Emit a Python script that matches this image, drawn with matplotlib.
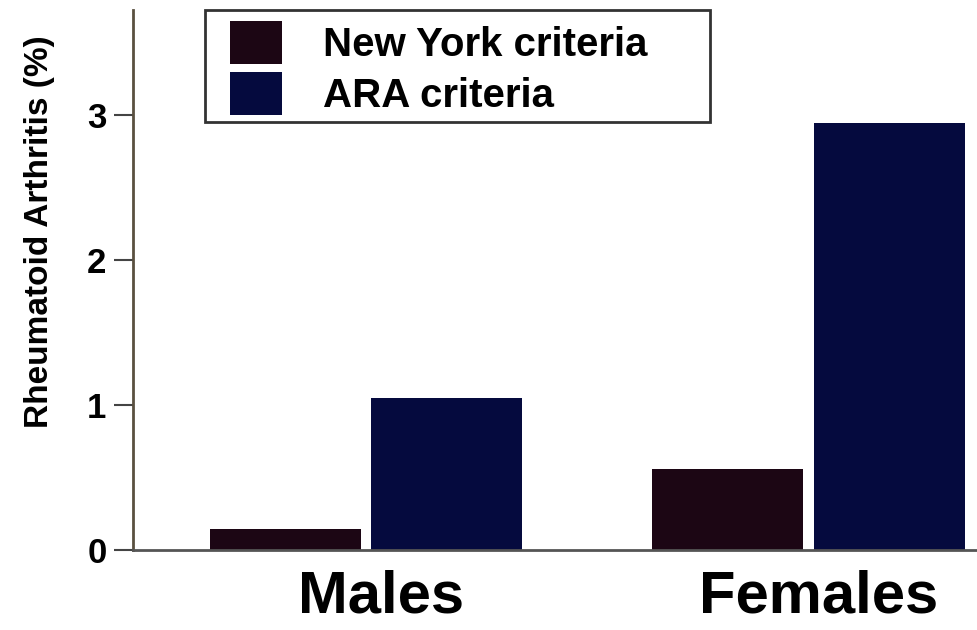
import matplotlib
matplotlib.use("Agg")
import matplotlib.pyplot as plt
from matplotlib.patches import Rectangle
import numpy as np

plt.rcParams['font.family'] = ['Liberation Sans', 'DejaVu Sans']
plt.rcParams['font.weight'] = 'bold'

groups = ["Males", "Females"]
series_names = ["New York criteria", "ARA criteria"]
new_york = [0.145, 0.56]
ara = [1.05, 2.94]
y_ticks = [0, 1, 2, 3]
y_label = "Rheumatoid Arthritis (%)"

colors = ["#1c0614", "#050a3e"]

W, H = 978, 630
fig = plt.figure(figsize=(W / 100, H / 100), dpi=100)
ax_left, ax_bottom, ax_top = 133 / W, 1 - 550 / H, 1 - 10 / H
ax = fig.add_axes([ax_left, ax_bottom, 1 - ax_left, ax_top - ax_bottom])

x = np.arange(len(groups))
width = 0.341
offset = 0.1825
ax.bar(x - offset, new_york, width, color=colors[0], label=series_names[0])
ax.bar(x + offset, ara, width, color=colors[1], label=series_names[1])

ax.set_xlim(-0.5266, 1.383)
ax.set_ylim(0, 3.72)
ax.set_yticks(y_ticks)
ax.set_yticklabels([str(t) for t in y_ticks], fontsize=25, fontweight='bold')
ax.set_xticks(x + np.array([0.034, 0.022]))
ax.set_xticklabels(groups, fontsize=43, fontweight='bold')
ax.tick_params(axis='x', length=0, pad=14)
ax.tick_params(axis='y', length=14, width=1.5, color='#444444', pad=5)

for s in ['top', 'right']:
    ax.spines[s].set_visible(False)
ax.spines['left'].set_color('#5a5040')
ax.spines['left'].set_linewidth(2)
ax.spines['bottom'].set_color('#555555')
ax.spines['bottom'].set_linewidth(2)

fig.text(40 / W, 1 - 232 / H, y_label, rotation=90, fontsize=24, fontweight='bold',
         ha='center', va='center')

# legend frame
fig.patches.append(Rectangle((205 / W, 1 - 122 / H), (710 - 205) / W, (122 - 10) / H,
                             transform=fig.transFigure, fill=False,
                             edgecolor='#333333', linewidth=2))
leg = ax.legend(loc='upper left', bbox_to_anchor=(226 / W, 1 - 17 / H),
                bbox_transform=fig.transFigure, frameon=False, fontsize=29,
                handlelength=1.3, handleheight=1.25, handletextpad=1.0,
                labelspacing=0.2, borderaxespad=0, borderpad=0.1)
for t in leg.get_texts():
    t.set_fontweight('bold')

fig.savefig("out.png", dpi=100)
